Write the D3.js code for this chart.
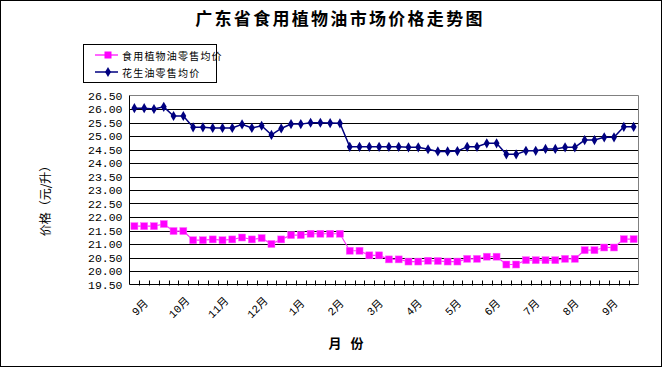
<!DOCTYPE html>
<html><head><meta charset="utf-8">
<script src="https://cdn.jsdelivr.net/npm/d3@7"></script>
<style>
html,body{margin:0;padding:0;background:#fff;}
svg{display:block;}
</style></head>
<body>
<svg id="c" width="662" height="367"></svg>
<script>
const weeks = d3.range(52);
const edibleOil = [21.66,21.66,21.66,21.74,21.48,21.48,21.14,21.14,21.17,21.14,21.17,21.24,21.17,21.22,21.00,21.17,
  21.33,21.33,21.38,21.38,21.38,21.38,20.75,20.75,20.58,20.58,20.43,20.43,20.35,20.35,20.38,20.37,20.35,20.35,
  20.45,20.45,20.53,20.53,20.24,20.24,20.40,20.40,20.40,20.40,20.45,20.45,20.77,20.77,20.87,20.87,21.18,21.18];
const peanutOil = [26.03,26.03,26.00,26.08,25.74,25.74,25.32,25.32,25.30,25.30,25.30,25.43,25.30,25.38,25.04,25.28,
  25.44,25.44,25.49,25.49,25.48,25.47,24.60,24.60,24.60,24.60,24.60,24.60,24.58,24.58,24.51,24.43,24.43,24.44,
  24.60,24.60,24.73,24.73,24.32,24.32,24.45,24.45,24.52,24.52,24.58,24.58,24.85,24.85,24.95,24.95,25.34,25.34];
const monthLabels = ["9月","10月","11月","12月","1月","2月","3月","4月","5月","6月","7月","8月","9月"];
const monthIdx = [0,4,8,12,16,20,24,28,32,36,40,44,48];
const yTicks = [19.5,20,20.5,21,21.5,22,22.5,23,23.5,24,24.5,25,25.5,26,26.5];
const seriesNames = ["食用植物油零售均价","花生油零售均价"];

const svg = d3.select("#c");
const L = 129.5, R = 638.5, T = 95.5, B = 284.5;
const x = d3.scaleBand().domain(weeks).range([L, R]);
const y = d3.scaleLinear().domain([19.5, 26.5]).range([B, T]);
const cx = i => x(i) + x.bandwidth()/2;

// outer border
svg.append("rect").attr("x",0.5).attr("y",0.5).attr("width",661).attr("height",366)
  .attr("fill","#fff").attr("stroke","#000");

// title
svg.append("text").attr("x",340).attr("y",25).attr("text-anchor","middle")
  .attr("font-family","'Noto Sans CJK SC'").attr("font-weight","bold").attr("font-size",17)
  .attr("letter-spacing",2.3).text("广东省食用植物油市场价格走势图");

// gridlines
svg.append("g").selectAll("line").data(yTicks.filter(d=>d>19.5 && d<26.5)).join("line")
  .attr("x1",L).attr("x2",R).attr("y1",d=>Math.round(y(d))+0.5).attr("y2",d=>Math.round(y(d))+0.5)
  .attr("stroke","#000").attr("stroke-width",1);

// plot frame: top/right gray, left/bottom black
svg.append("line").attr("x1",L).attr("x2",R).attr("y1",T).attr("y2",T).attr("stroke","#808080");
svg.append("line").attr("x1",R).attr("x2",R).attr("y1",T).attr("y2",B).attr("stroke","#808080");
svg.append("line").attr("x1",L).attr("x2",L).attr("y1",T).attr("y2",B).attr("stroke","#000");
svg.append("line").attr("x1",L).attr("x2",R).attr("y1",B).attr("y2",B).attr("stroke","#000");

// y axis labels
const yAxis = d3.axisLeft(y).tickValues(yTicks).tickFormat(d3.format(".2f")).tickSize(0).tickPadding(7);
const gy = svg.append("g").attr("transform",`translate(${L},0)`).call(yAxis);
gy.select(".domain").remove();
gy.selectAll("text").attr("font-family","'Liberation Mono'").attr("font-size",11.5).attr("fill","#000");

// x ticks at band boundaries
const bounds = weeks.map(i=>x(i)).concat([R]);
svg.append("g").selectAll("line").data(bounds.slice(1,-1)).join("line")
  .attr("x1",d=>Math.round(d)+0.5).attr("x2",d=>Math.round(d)+0.5).attr("y1",B-4).attr("y2",B+1)
  .attr("stroke","#000");

// month labels
svg.append("g").selectAll("text").data(monthIdx).join("text")
  .attr("transform",(d)=>`translate(${cx(d)+6},${308}) rotate(-45)`)
  .attr("text-anchor","middle").attr("dominant-baseline","central")
  .attr("font-family","'Liberation Mono','Noto Sans CJK SC'").attr("font-size",11)
  .attr("fill","#000").text((d,i)=>monthLabels[i]);

// axis titles
svg.append("text").attr("transform","translate(44,198) rotate(-90)").attr("text-anchor","middle")
  .attr("dominant-baseline","central").attr("font-family","'Noto Sans CJK SC'").attr("font-size",12)
  .text("价格（元/升）");
svg.append("text").attr("x",346).attr("y",348).attr("text-anchor","middle")
  .attr("font-family","'Noto Sans CJK SC'").attr("font-weight","bold").attr("font-size",13)
  .attr("xml:space","preserve").text("月   份");

// lines
const line = d3.line().x((d,i)=>cx(i)).y(d=>y(d));
svg.append("path").datum(edibleOil).attr("d",line).attr("fill","none")
  .attr("stroke","#ff33ff").attr("stroke-width",1.2);
svg.append("path").datum(peanutOil).attr("d",line).attr("fill","none")
  .attr("stroke","#000080").attr("stroke-width",1.5);

// markers
svg.append("g").selectAll("rect").data(edibleOil).join("rect")
  .attr("x",(d,i)=>cx(i)-3.5).attr("y",d=>y(d)-3.5).attr("width",7).attr("height",7)
  .attr("fill","#ff00ff").attr("stroke","#ff66ff").attr("stroke-width",0.5);
const diamond = d3.symbol().type(d3.symbolDiamond).size(30);
svg.append("g").selectAll("path").data(peanutOil).join("path")
  .attr("transform",(d,i)=>`translate(${cx(i)},${y(d)})`).attr("d",diamond)
  .attr("fill","#000080");

// legend
const lg = svg.append("g");
lg.append("rect").attr("x",83.5).attr("y",44.5).attr("width",133).attr("height",38)
  .attr("fill","#fff").attr("stroke","#000");
const legY = [55, 72];
lg.append("line").attr("x1",95).attr("x2",118).attr("y1",legY[0]).attr("y2",legY[0])
  .attr("stroke","#ff33ff").attr("stroke-width",1.5);
lg.append("rect").attr("x",104.5).attr("y",legY[0]-3.5).attr("width",7).attr("height",7).attr("fill","#ff00ff");
lg.append("line").attr("x1",95).attr("x2",118).attr("y1",legY[1]).attr("y2",legY[1])
  .attr("stroke","#000080").attr("stroke-width",1.5);
lg.append("path").attr("transform",`translate(108,${legY[1]})`).attr("d",diamond).attr("fill","#000080");
lg.selectAll("text.lt").data(seriesNames).join("text").attr("class","lt")
  .attr("x",122).attr("y",(d,i)=>legY[i]).attr("dominant-baseline","central")
  .attr("font-family","'Noto Sans CJK SC'").attr("font-size",10).attr("letter-spacing",1.2)
  .text(d=>d);
</script>
</body></html>
